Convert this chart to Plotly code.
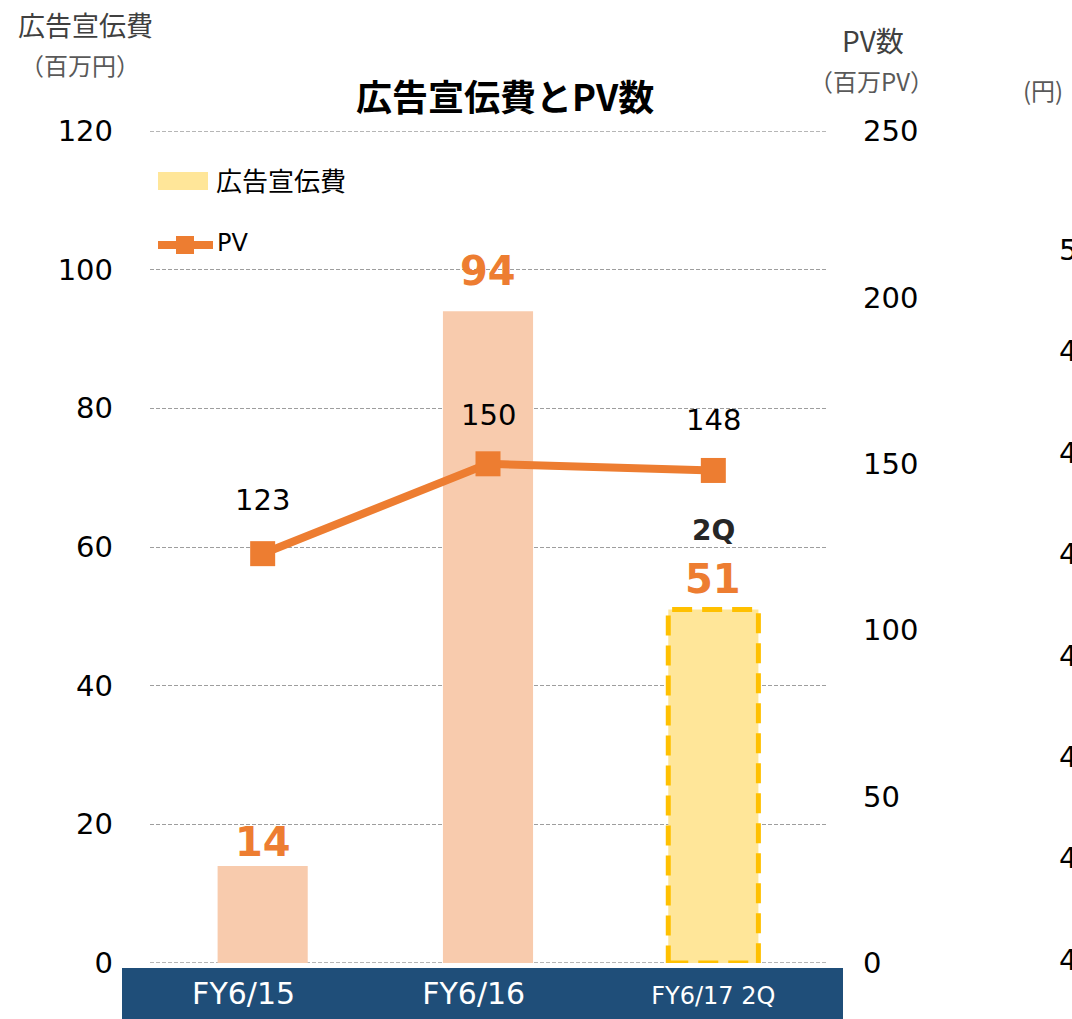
import plotly.graph_objects as go

# ---- data ----
categories = ["FY6/15", "FY6/16", "FY6/17 2Q"]
tick_text = ["FY6/15&nbsp;&nbsp;&nbsp;&nbsp;", "FY6/16&nbsp;&nbsp;&nbsp;",
             "<span style='font-size:24px'>FY6/17 2Q</span>"]
ad_spend = [14, 94, 51]          # 広告宣伝費（百万円）
pv = [123, 150, 148]             # PV数（百万PV）
left_ticks = [0, 20, 40, 60, 80, 100, 120]
right_ticks = [0, 50, 100, 150, 200, 250]
cut_ticks = ["5", "4", "4", "4", "4", "4", "4", "4"]   # neighbouring chart, cut off

# ---- style ----
W, H = 1072, 1019
L, R, T, B = 150, 826, 131, 963
PEACH = "#F8CBAD"
YELLOW = "#FFE699"
GOLD = "#FFC000"
ORANGE = "#ED7D31"
NAVY = "#1F4E79"
GRID = "#9E9E9E"
FONT = "DejaVu Sans, Noto Sans CJK JP"
CJK = "Noto Sans CJK JP"


def px(x, y):
    return (x - L) / (R - L), (B - y) / (B - T)


fig = go.Figure()

bar_colors = [PEACH, PEACH, YELLOW]
fig.add_trace(go.Bar(
    x=categories, y=ad_spend, width=0.4,
    marker=dict(color=bar_colors, line=dict(width=0)),
    showlegend=False, hoverinfo="skip",
))
fig.add_trace(go.Scatter(
    x=categories, y=pv, yaxis="y2", mode="lines+markers",
    line=dict(color=ORANGE, width=8),
    marker=dict(symbol="square", size=25, color=ORANGE),
    showlegend=False, hoverinfo="skip",
))

shapes = []
annotations = []

# edge gridlines (plotly drops gridlines lying on the range ends)
for v in (left_ticks[0], left_ticks[-1]):
    shapes.append(dict(type="line", xref="paper", yref="y", x0=0, x1=1, y0=v, y1=v,
                       line=dict(color=GRID, width=1.3, dash="4px,2px"), layer="below"))

# dashed border on the 2Q bar
shapes.append(dict(type="rect", xref="x", yref="y",
                   x0=2 - 0.2, x1=2 + 0.2, y0=0, y1=ad_spend[2],
                   line=dict(color=GOLD, width=5, dash="20px,10px"),
                   fillcolor="rgba(0,0,0,0)", layer="above"))

# navy category band
x0, y0 = px(122, 968)
x1, y1 = px(843, 1019)
shapes.append(dict(type="rect", xref="paper", yref="paper",
                   x0=x0, x1=x1, y0=y1, y1=y0,
                   fillcolor=NAVY, line=dict(width=0), layer="below"))

# bar value labels
bar_shift = [24, 40, 30]
for i, (c, v) in enumerate(zip(categories, ad_spend)):
    annotations.append(dict(x=c, y=v, xref="x", yref="y", text=f"<b>{v}</b>",
                            showarrow=False, yanchor="middle", yshift=bar_shift[i],
                            font=dict(family=FONT, size=40, color=ORANGE)))
annotations.append(dict(x=categories[2], y=ad_spend[2], xref="x", yref="y",
                        text="<b>2Q</b>", showarrow=False, yanchor="middle",
                        yshift=79, font=dict(family=FONT, size=28, color="#262626")))

# line value labels
line_shift = [54, 49, 50]
for i, (c, v) in enumerate(zip(categories, pv)):
    annotations.append(dict(x=c, y=v, xref="x", yref="y2", text=str(v),
                            showarrow=False, yanchor="middle", yshift=line_shift[i],
                            font=dict(family=FONT, size=29, color="#000000")))

# title
tx, ty = px(505, 95)
annotations.append(dict(x=tx, y=ty, xref="paper", yref="paper",
                        text="<b>広告宣伝費とPV数</b>", showarrow=False,
                        xanchor="center", yanchor="middle",
                        font=dict(family=CJK, size=36, color="#000000")))

# axis titles
for text, xx, yy, size, col in [
    ("広告宣伝費", 85, 25, 27, "#404040"),
    ("（百万円）", 80, 65, 24, "#595959"),
    ("PV数", 873, 40, 28, "#404040"),
    ("（百万PV）", 871, 80, 24, "#595959"),
    ("(円)", 1043, 90, 24, "#595959"),
]:
    ax, ay = px(xx, yy)
    annotations.append(dict(x=ax, y=ay, xref="paper", yref="paper", text=text,
                            showarrow=False, xanchor="center", yanchor="middle",
                            font=dict(family=CJK, size=size, color=col)))

# cut-off neighbouring chart ticks
for i, t in enumerate(cut_ticks):
    ax, ay = px(1057, 250 + i * 101.4)
    annotations.append(dict(x=ax, y=ay, xref="paper", yref="paper", text=t,
                            showarrow=False, xanchor="left", yanchor="middle",
                            font=dict(family=FONT, size=29, color="#000000")))

# manual legend
lx0, ly0 = px(158, 172)
lx1, ly1 = px(208, 190)
shapes.append(dict(type="rect", xref="paper", yref="paper", x0=lx0, x1=lx1,
                   y0=ly1, y1=ly0, fillcolor=YELLOW, line=dict(width=0)))
ax, ay = px(214, 180)
annotations.append(dict(x=ax, y=ay, xref="paper", yref="paper", text="広告宣伝費",
                        showarrow=False, xanchor="left", yanchor="middle",
                        font=dict(family=CJK, size=26, color="#000000")))
lx0, ly = px(158, 245)
lx1, _ = px(213, 245)
shapes.append(dict(type="line", xref="paper", yref="paper", x0=lx0, x1=lx1,
                   y0=ly, y1=ly, line=dict(color=ORANGE, width=8)))
mx0, my0 = px(176, 236)
mx1, my1 = px(194, 254)
shapes.append(dict(type="rect", xref="paper", yref="paper", x0=mx0, x1=mx1,
                   y0=my1, y1=my0, fillcolor=ORANGE, line=dict(width=0)))
ax, ay = px(215, 243)
annotations.append(dict(x=ax, y=ay, xref="paper", yref="paper", text="PV",
                        showarrow=False, xanchor="left", yanchor="middle",
                        font=dict(family=FONT, size=24, color="#000000")))

fig.update_layout(
    width=W, height=H, autosize=False,
    margin=dict(l=L, r=W - R, t=T, b=H - B, pad=0, autoexpand=False),
    paper_bgcolor="white", plot_bgcolor="rgba(0,0,0,0)",
    bargap=0.6,
    xaxis=dict(type="category", categoryorder="array", categoryarray=categories,
               range=[-0.5, 2.5], tickvals=categories, ticktext=tick_text,
               showgrid=False, zeroline=False, showline=False, ticks="",
               ticklabelstandoff=10, automargin=False,
               tickfont=dict(family=FONT, size=30, color="white")),
    yaxis=dict(range=[left_ticks[0], left_ticks[-1]], tickvals=left_ticks, showgrid=True,
               gridcolor=GRID, gridwidth=1.3, griddash="4px,2px",
               zeroline=False, showline=False, ticks="", ticklabelstandoff=36,
               automargin=False,
               tickfont=dict(family=FONT, size=29, color="#000000")),
    yaxis2=dict(range=[right_ticks[0], right_ticks[-1]], tickvals=right_ticks,
                overlaying="y", side="right",
                showgrid=False, zeroline=False, showline=False, ticks="",
                ticklabelstandoff=36, automargin=False,
                tickfont=dict(family=FONT, size=29, color="#000000")),
    shapes=shapes, annotations=annotations,
)

fig.write_html("out.html", config={"displayModeBar": False},
               post_script="document.body.style.margin='0';document.body.style.overflow='hidden';")
